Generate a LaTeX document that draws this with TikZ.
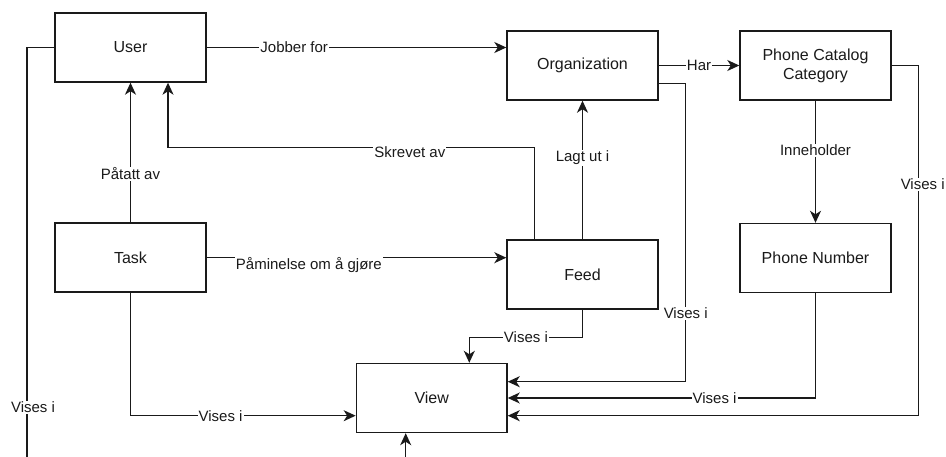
\documentclass[tikz,border=0pt]{standalone}
\usepackage{fontspec}
\setmainfont{Liberation Sans}
\usetikzlibrary{arrows.meta}
\definecolor{ink}{HTML}{1A1A1A}
\tikzset{
  entity/.style={draw=ink, line width=1.4pt, fill=white, rectangle,
    minimum width=151pt, minimum height=69pt, inner sep=2pt, align=center,
    text=ink, font=\fontsize{16}{19}\selectfont},
  rel/.style={draw=ink, line width=1.4pt, -{Stealth[length=12pt,width=11pt,inset=3.5pt]}},
  plain/.style={draw=ink, line width=1.4pt},
  lbl/.style={fill=white, inner sep=1pt, text=ink, font=\fontsize{15}{18}\selectfont}
}
\begin{document}
\begin{tikzpicture}[x=1pt, y=-1pt]
\clip (0,0) rectangle (946,457);
\fill[white] (0,0) rectangle (946,457);

% entities
\node[entity] (user) at (130.5,47.5) {User};
\node[entity] (org)  at (582.5,65.5) {Organization};
\node[entity] (pcc)  at (815.5,65.5) {Phone Catalog\\Category};
\node[entity] (task) at (130.5,257.7) {Task};
\node[entity] (feed) at (582.5,274.5) {Feed};
\node[entity] (pn)   at (815.5,258) {Phone Number};
\node[entity, minimum width=150.7pt] (view) at (431.7,398) {View};

% loose ends running off the lower edge
\coordinate (leftdown) at (27,470);
\coordinate (viewup) at (405.7,470);

% relations
\draw[rel] (user.east) -- node[lbl, pos=0.292] {Jobber for} (user.east -| org.west);
\draw[rel] (org.east) -- node[lbl] {Har} (pcc.west);
\draw[rel] (pcc.south) -- node[lbl, pos=0.404] {Inneholder} (pn.north);
\draw[rel] (task.north) -- node[lbl, pos=0.348] {Påtatt av} (user.south);
\draw[rel] (feed.north) -- node[lbl, pos=0.586] {Lagt ut i} (org.south);
\draw[rel] (task.east) -- node[lbl, pos=0.341, yshift=-7pt] {Påminelse om å gjøre} (task.east -| feed.west);
\draw[rel] ([xshift=-48pt]feed.north) -- ++(0,-92)
  -| node[lbl, pos=0.17, yshift=-5pt] {Skrevet av} ([xshift=37.5pt]user.south);

% shown in View
\draw[rel] (feed.south) -- ++(0,27.8)
  -| node[lbl, pos=0.25] {Vises i} ([xshift=37.6pt]view.north);
\draw[rel] ([yshift=-17.8pt]org.east) -- ++(27,0)
  |- node[lbl, pos=0.385] {Vises i} ([yshift=16.3pt]view.east);
\draw[rel] (pn.south) |- node[lbl, pos=0.664] {Vises i} (view.east);
\draw[rel] (pcc.east) -- ++(27,0)
  |- node[lbl, pos=0.17, xshift=4pt] {Vises i} ([yshift=-17.7pt]view.east);
\draw[rel] (task.south) |- node[lbl, pos=0.7] {Vises i} ([yshift=-17.7pt]view.west);
\draw[plain] (user.west) -| node[lbl, pos=0.926, xshift=6pt] {Vises i} (leftdown);
\draw[rel] (viewup) -- (viewup |- view.south);
\end{tikzpicture}
\end{document}
